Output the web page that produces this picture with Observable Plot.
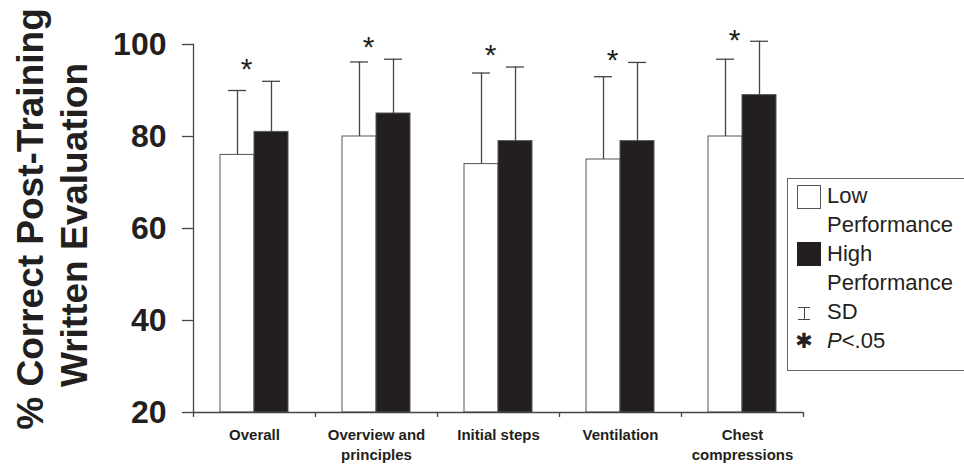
<!DOCTYPE html>
<html>
<head>
<meta charset="utf-8">
<script src="https://cdn.jsdelivr.net/npm/d3@7"></script>
<script src="https://cdn.jsdelivr.net/npm/@observablehq/plot@0.6"></script>
<style>
  html, body { margin: 0; padding: 0; background: #fff; }
  #wrap { position: relative; width: 964px; height: 464px; overflow: hidden;
          font-family: "Liberation Sans", Arial, sans-serif; color: #231f20; }
  #legend { position: absolute; left: 787px; top: 178px; width: 200px; height: 193px;
            border: 1px solid #666; box-sizing: border-box; background: #fff; }
  #legend .sw { position: absolute; left: 9px; width: 24px; height: 24px; box-sizing: border-box; }
  #legend .lines { position: absolute; left: 39px; top: 2px; font-size: 22px; line-height: 29px; white-space: nowrap; }
  #legend .sd { position: absolute; left: 10px; top: 128px; width: 12px; height: 13px;
                border-top: 1px solid #444; border-bottom: 1px solid #444; box-sizing: border-box; }
  #legend .sd::after { content: ""; position: absolute; left: 5.5px; top: 0; width: 1px; height: 100%; background: #444; }
  #legend .star { position: absolute; left: 4px; top: 150px; width: 24px; height: 24px; line-height: 24px;
                  text-align: center; font-family: "DejaVu Sans", sans-serif; font-size: 21px; }
</style>
</head>
<body>
<div id="wrap"></div>
<script>
// ---- data ----
const categories = ["Overall", "Overview and principles", "Initial steps", "Ventilation", "Chest compressions"];
const categoryLabels = ["Overall", "Overview and\nprinciples", "Initial steps", "Ventilation", "Chest\ncompressions"];
const seriesNames = ["Low", "High"];
const lowMean = [76, 80, 74, 75, 80];
const lowSD = [14, 16.2, 19.8, 18, 16.8];
const highMean = [81, 85, 79, 79, 89];
const highSD = [11, 11.8, 16.1, 17.1, 11.7];
const starY = [96.2, 101, 99.2, 98.2, 102.5];
const yTicks = [20, 40, 60, 80, 100];
const yTitle = ["% Correct Post-Training", "Written Evaluation"];
const yBase = 20;

const rows = categories.flatMap((c, i) => [
  {cat: c, series: "Low", value: lowMean[i], sd: lowSD[i]},
  {cat: c, series: "High", value: highMean[i], sd: highSD[i]}
]);

const ink = "#231f20";
const chart = Plot.plot({
  width: 964,
  height: 464,
  marginLeft: 193,
  marginRight: 161,
  marginTop: 44,
  marginBottom: 52,
  style: {fontFamily: '"Liberation Sans", Arial, sans-serif', color: ink, background: "transparent", overflow: "visible"},
  fx: {domain: categories, padding: 0, label: null},
  x: {domain: seriesNames, paddingInner: 0, paddingOuter: 0.76, axis: null},
  y: {domain: [20, 100], label: null},
  color: {domain: seriesNames, range: ["#ffffff", ink]},
  marks: [
    Plot.barY(rows, {fx: "cat", x: "series", y1: () => yBase, y2: "value", fill: "series", stroke: "#555", strokeWidth: 1}),
    Plot.ruleX(rows, {fx: "cat", x: "series", y1: "value", y2: d => d.value + d.sd, stroke: "#444", strokeWidth: 1.3}),
    Plot.tickY(rows, {fx: "cat", x: "series", y: d => d.value + d.sd, insetLeft: 8, insetRight: 8, stroke: "#444", strokeWidth: 1.3}),
    Plot.text(categories, {fx: d => d, y: (d, i) => starY[i], text: () => "*", dx: -8, dy: 7.5,
      lineAnchor: "middle", fontSize: 30, fill: ink}),
    Plot.ruleY([yBase], {stroke: "#444", strokeWidth: 1.3}),
    Plot.frame({anchor: "left", facetAnchor: "left", stroke: "#444", strokeWidth: 1.3}),
    Plot.axisY({ticks: yTicks, tickSize: 11, tickPadding: 16, fontSize: 32, fontWeight: "bold",
      label: null, stroke: "#444", strokeWidth: 1.3, fill: ink}),
    Plot.axisFx({anchor: "bottom", tickSize: 0, tickPadding: 13.5, fontSize: 15, fontWeight: "bold",
      lineHeight: 1.33, label: null, fill: ink, tickFormat: d => categoryLabels[categories.indexOf(d)]}),
    Plot.axisFx({anchor: "bottom", tickSize: 5, label: null, tickFormat: () => null, dx: -61,
      stroke: "#444", strokeWidth: 1.3}),
    Plot.axisFx({anchor: "bottom", ticks: [categories[categories.length - 1]], tickSize: 5, label: null,
      tickFormat: () => null, dx: 61, stroke: "#444", strokeWidth: 1.3})
  ]
});

const wrap = document.getElementById("wrap");
wrap.appendChild(chart);

// y-axis title (two lines, rotated)
const svg = d3.select(chart);
const titlePos = [[43, 219], [87, 225]];
yTitle.forEach((t, i) => {
  svg.append("text")
    .attr("transform", `translate(${titlePos[i][0]},${titlePos[i][1]}) rotate(-90)`)
    .attr("text-anchor", "middle")
    .attr("font-size", 37)
    .attr("font-weight", "bold")
    .attr("fill", ink)
    .text(t);
});

// legend
const legend = document.createElement("div");
legend.id = "legend";
legend.innerHTML = `
  <div class="sw" style="top:6px;border:1px solid #555;background:#fff"></div>
  <div class="sw" style="top:63px;background:${ink}"></div>
  <div class="sd"></div>
  <div class="star">✱</div>
  <div class="lines">Low<br>Performance<br>High<br>Performance<br>SD<br><i>P</i>&lt;.05</div>`;
wrap.appendChild(legend);
</script>
</body>
</html>
